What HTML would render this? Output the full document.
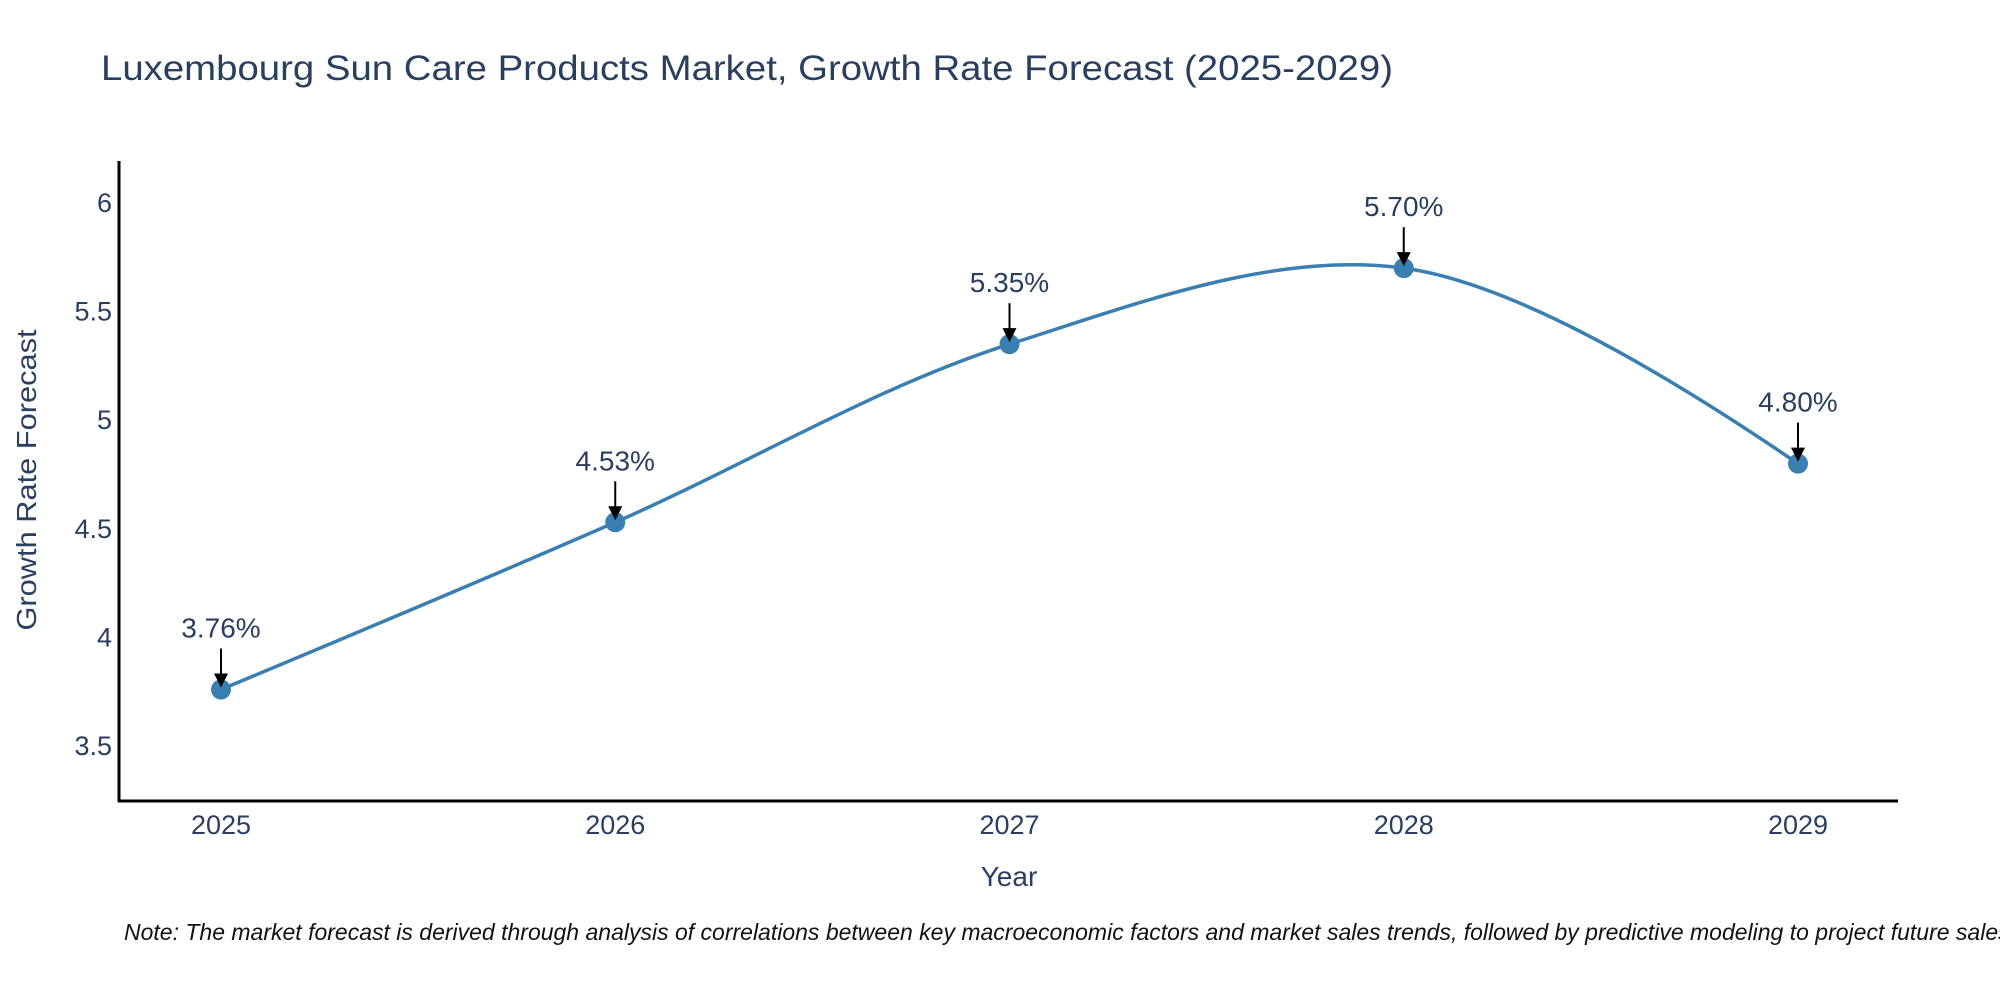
<!DOCTYPE html>
<html><head><meta charset="utf-8"><style>
html,body{margin:0;padding:0;background:#fff;}
svg{display:block;font-family:"Liberation Sans",sans-serif;}
</style></head><body>
<svg id="chart" width="2000" height="1000" viewBox="0 0 2000 1000" xmlns="http://www.w3.org/2000/svg">
<rect width="2000" height="1000" fill="#fff"/>
<text x="101" y="80" font-size="35" fill="#2a3f5f" textLength="1292" lengthAdjust="spacingAndGlyphs">Luxembourg Sun Care Products Market, Growth Rate Forecast (2025-2029)</text>
<g id="axes"></g>
<g id="series"></g>
<g id="annos"></g>
<text x="1009" y="886" font-size="28" fill="#2a3f5f" text-anchor="middle">Year</text>
<text transform="translate(36,480) rotate(-90)" font-size="28" fill="#2a3f5f" text-anchor="middle" textLength="301" lengthAdjust="spacingAndGlyphs">Growth Rate Forecast</text>
<text x="124" y="940" font-size="23" font-style="italic" fill="#111">Note: The market forecast is derived through analysis of correlations between key macroeconomic factors and market sales trends, followed by predictive modeling to project future sales.</text>
</svg>
<script>
const years = [2025, 2026, 2027, 2028, 2029];
const growth = [3.76, 4.53, 5.35, 5.70, 4.80];
const labels = ["3.76%", "4.53%", "5.35%", "5.70%", "4.80%"];
const yTicks = [3.5, 4, 4.5, 5, 5.5, 6];
const yTickLabels = ["3.5", "4", "4.5", "5", "5.5", "6"];

const NS = "http://www.w3.org/2000/svg";
function x(v){ return 221 + (v - 2025) * 394.25; }
function y(v){ return 746 - (v - 3.5) * 217.2; }
function mk(tag, attrs, parent){ const e=document.createElementNS(NS,tag); for(const k in attrs) e.setAttribute(k,attrs[k]); parent.appendChild(e); return e; }

const axes=document.getElementById('axes');
let a=mk('line',{x1:119,y1:161,x2:119,y2:802,stroke:'#000','stroke-width':3},axes);


a=mk('line',{x1:118,y1:801,x2:1898,y2:801,stroke:'#000','stroke-width':3},axes);


yTicks.forEach((t,i)=>{
  const e=mk('text',{x:112,y:y(t)+9,'font-size':27,fill:'#2a3f5f','text-anchor':'end'},axes);
  e.textContent=yTickLabels[i];
  
  
});
years.forEach(t=>{
  const e=mk('text',{x:x(t),y:834,'font-size':27,fill:'#2a3f5f','text-anchor':'middle'},axes);
  e.textContent=String(t);
  
  
});

const pts=years.map((yr,i)=>[x(yr),y(growth[i])]);
function tangent(p,c,n,s){
  const d1x=p[0]-c[0],d1y=p[1]-c[1],d2x=n[0]-c[0],d2y=n[1]-c[1];
  const d1a=Math.pow(d1x*d1x+d1y*d1y,0.25),d2a=Math.pow(d2x*d2x+d2y*d2y,0.25);
  const nx=(d2a*d2a*d1x-d1a*d1a*d2x)*s,ny=(d2a*d2a*d1y-d1a*d1a*d2y)*s;
  const den1=3*d2a*(d1a+d2a),den2=3*d1a*(d1a+d2a);
  return [[c[0]+nx/den1,c[1]+ny/den1],[c[0]-nx/den2,c[1]-ny/den2]];
}
const tg=[];
for(let i=1;i<pts.length-1;i++) tg.push(tangent(pts[i-1],pts[i],pts[i+1],1));
let d='M'+pts[0]+'Q'+tg[0][0]+' '+pts[1];
for(let i=2;i<pts.length-1;i++) d+='C'+tg[i-2][1]+' '+tg[i-1][0]+' '+pts[i];
d+='Q'+tg[pts.length-3][1]+' '+pts[pts.length-1];
const series=document.getElementById('series');
const line=mk('path',{d:d,fill:'none',stroke:'#3a7fb1','stroke-width':3.5},series);


pts.forEach(p=>{
  const c=mk('circle',{cx:p[0],cy:p[1],r:10,fill:'#3a7fb1'},series);
  
  
});
const annos=document.getElementById('annos');
pts.forEach((p,i)=>{
  const g=mk('g',{},annos);
  
  
  mk('line',{x1:p[0],y1:p[1]-41,x2:p[0],y2:p[1]-12,stroke:'#000','stroke-width':2},g);
  mk('path',{d:`M${p[0]-7},${p[1]-16}L${p[0]+7},${p[1]-16}L${p[0]},${p[1]-2}Z`,fill:'#000'},g);
  const t=mk('text',{x:p[0],y:p[1]-52,'font-size':28,fill:'#2a3f5f','text-anchor':'middle'},g);
  t.textContent=labels[i];
});
</script>
</body></html>
